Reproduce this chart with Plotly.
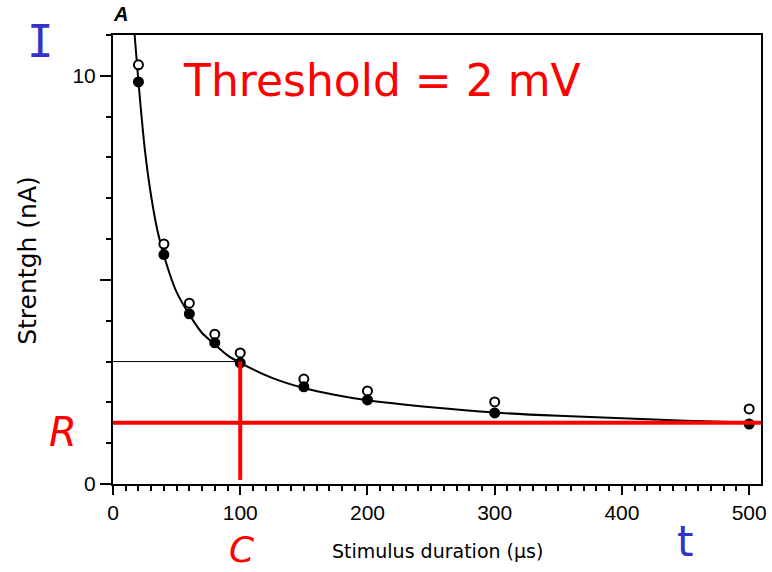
import plotly.graph_objects as go

# Data
durations = [20, 40, 60, 80, 100, 150, 200, 300, 500]
filled_strength = [9.85, 5.62, 4.17, 3.46, 2.97, 2.38, 2.06, 1.74, 1.47]
open_strength = [10.27, 5.88, 4.43, 3.67, 3.21, 2.57, 2.28, 2.01, 1.84]

curve_t = [17, 20, 25, 30, 35, 40, 50, 60, 70, 80, 90, 100, 125, 150, 175, 200,
           250, 300, 350, 400, 450, 508]
curve_i = [11.0, 9.85, 8.2, 7.05, 6.2, 5.6, 4.7, 4.15, 3.7, 3.42, 3.15, 2.97, 2.6,
           2.35, 2.18, 2.05, 1.88, 1.75, 1.67, 1.61, 1.55, 1.5]

rheobase = 1.5
chronaxie = 100
double_rheobase = 3.0
x_max = 509.3
y_max = 11.0

RED = "#ff0000"
BLUE = "#3333cc"
HAND = "DejaVu Sans"

fig = go.Figure()

fig.add_trace(go.Scatter(x=curve_t, y=curve_i, mode="lines", line=dict(color="black", width=2, shape="spline", smoothing=0.6),
                         hoverinfo="skip", showlegend=False))
fig.add_trace(go.Scatter(x=durations, y=open_strength, mode="markers",
                         marker=dict(symbol="circle", size=9, color="white", line=dict(color="black", width=2)),
                         showlegend=False))
fig.add_trace(go.Scatter(x=durations, y=filled_strength, mode="markers",
                         marker=dict(symbol="circle", size=11, color="black", line=dict(color="black", width=0)),
                         showlegend=False))
# thin black guide at 2x rheobase
fig.add_trace(go.Scatter(x=[0, chronaxie], y=[double_rheobase, double_rheobase], mode="lines",
                         line=dict(color="black", width=1), showlegend=False))
# red rheobase and chronaxie lines
fig.add_trace(go.Scatter(x=[0, x_max], y=[rheobase, rheobase], mode="lines",
                         line=dict(color=RED, width=4), showlegend=False))
fig.add_trace(go.Scatter(x=[chronaxie, chronaxie], y=[0.1, double_rheobase], mode="lines",
                         line=dict(color=RED, width=4), showlegend=False))

tickfont = dict(family="Liberation Sans, Arial", size=21, color="black")

fig.update_xaxes(range=[0, x_max], tickvals=[0, 100, 200, 300, 400, 500],
                 ticks="outside", ticklen=9, tickwidth=2, tickcolor="black",
                 minor=dict(dtick=10, tick0=0, ticks="outside", ticklen=5, tickwidth=1.5, tickcolor="black", showgrid=False),
                 showline=True, linewidth=2, linecolor="black", mirror=True,
                 showgrid=False, zeroline=False, tickfont=tickfont)
fig.update_yaxes(range=[0, y_max], tickvals=[0, 5, 10], ticktext=["0", "", "10"],
                 ticks="outside", ticklen=11, tickwidth=2, tickcolor="black",
                 minor=dict(dtick=1, tick0=0, ticks="outside", ticklen=5, tickwidth=1.5, tickcolor="black", showgrid=False),
                 showline=True, linewidth=2, linecolor="black", mirror=True,
                 showgrid=False, zeroline=False, tickfont=tickfont)

annotations = [
    dict(text="Threshold = 2 mV", x=384, y=80, font=dict(family=HAND, size=44, color=RED)),
    dict(text="Stimulus duration (µs)", x=440, y=551, font=dict(family=HAND, size=19, color="black")),
    dict(text="Strentgh (nA)", x=26, y=260, textangle=-90, font=dict(family=HAND, size=25, color="black")),
    dict(text="I", x=40, y=42, font=dict(family="DejaVu Sans Mono", size=44, color=BLUE)),
    dict(text="<i>R</i>", x=63, y=432, font=dict(family=HAND, size=40, color=RED)),
    dict(text="<i>C</i>", x=243, y=549, font=dict(family=HAND, size=36, color=RED)),
    dict(text="t", x=690, y=541, font=dict(family=HAND, size=42, color=BLUE)),
    dict(text="<b><i>A</i></b>", x=121, y=14, font=dict(family="Liberation Sans, Arial", size=20, color="black")),
]
W, H = 772, 572
ml, mr, mt, mb = 113, 5, 35, 88
pw, ph = W - ml - mr, H - mt - mb
for a in annotations:
    px, py = a["x"], a["y"]
    a["x"] = (px - ml) / pw
    a["y"] = 1 - (py - mt) / ph
    a.update(xref="paper", yref="paper", showarrow=False, xanchor="center", yanchor="middle")

fig.update_layout(width=W, height=H, margin=dict(l=ml, r=mr, t=mt, b=mb),
                  plot_bgcolor="white", paper_bgcolor="white",
                  annotations=annotations, showlegend=False)

fig.write_html("out.html")
